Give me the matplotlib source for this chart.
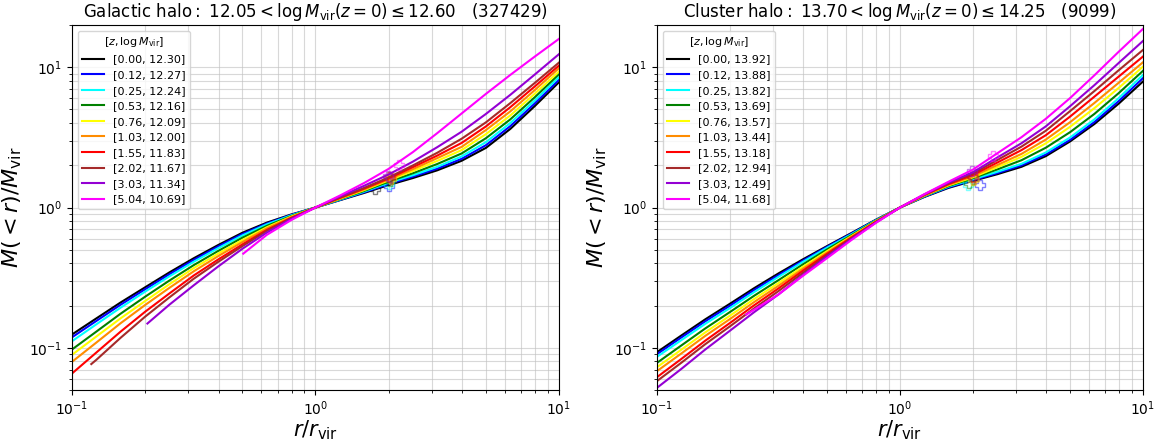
import numpy as np
import matplotlib
matplotlib.use('Agg')
import matplotlib.pyplot as plt

# radius grid (r / r_vir), 0.1 dex steps, shared by all curves
r_grid = [0.1, 0.126, 0.158, 0.2, 0.251, 0.316, 0.398, 0.501, 0.631, 0.794, 1.0,
          1.259, 1.585, 1.995, 2.512, 3.162, 3.981, 5.012, 6.31, 7.943, 10.0]

colors = ['black', 'blue', 'cyan', 'green', 'yellow', 'darkorange',
          'red', 'brown', 'darkviolet', 'magenta']
z_vals = ['0.00', '0.12', '0.25', '0.53', '0.76', '1.03', '1.55', '2.02', '3.03', '5.04']

nan = np.nan

#### galactic halo: log10 M(<r)/Mvir read on r_grid
logm_gal = [
    [-0.905, -0.790, -0.678, -0.568, -0.463, -0.362, -0.268, -0.180, -0.108, -0.050, 0,
     0.052, 0.104, 0.160, 0.210, 0.265, 0.333, 0.425, 0.560, 0.722, 0.893],
    [-0.925, -0.808, -0.694, -0.582, -0.476, -0.374, -0.278, -0.189, -0.114, -0.053, 0,
     0.054, 0.108, 0.167, 0.220, 0.277, 0.347, 0.444, 0.580, 0.741, 0.910],
    [-0.953, -0.832, -0.715, -0.599, -0.491, -0.387, -0.290, -0.199, -0.120, -0.056, 0,
     0.056, 0.113, 0.176, 0.230, 0.290, 0.364, 0.466, 0.602, 0.762, 0.929],
    [-1.012, -0.884, -0.758, -0.635, -0.521, -0.411, -0.310, -0.215, -0.131, -0.061, 0,
     0.059, 0.118, 0.184, 0.244, 0.310, 0.385, 0.494, 0.628, 0.785, 0.950],
    [-1.050, -0.919, -0.791, -0.666, -0.547, -0.432, -0.329, -0.232, -0.141, -0.065, 0,
     0.062, 0.124, 0.193, 0.260, 0.332, 0.409, 0.523, 0.656, 0.810, 0.969],
    [-1.100, -0.962, -0.826, -0.694, -0.573, -0.455, -0.347, -0.246, -0.149, -0.069, 0,
     0.065, 0.129, 0.200, 0.273, 0.352, 0.432, 0.552, 0.685, 0.836, 0.993],
    [-1.183, -1.033, -0.886, -0.742, -0.613, -0.485, -0.371, -0.263, -0.160, -0.074, 0,
     0.068, 0.135, 0.207, 0.288, 0.370, 0.460, 0.578, 0.715, 0.862, 1.012],
    [nan, -1.085, -0.930, -0.777, -0.641, -0.508, -0.388, -0.275, -0.167, -0.077, 0,
     0.071, 0.140, 0.214, 0.300, 0.390, 0.490, 0.607, 0.744, 0.887, 1.033],
    [nan, nan, nan, nan, -0.693, -0.555, -0.421, -0.294, -0.179, -0.082, 0,
     0.078, 0.155, 0.235, 0.327, 0.430, 0.540, 0.667, 0.803, 0.947, 1.093],
    [nan, nan, nan, nan, nan, nan, nan, nan, -0.195, -0.090, 0,
     0.085, 0.175, 0.275, 0.395, 0.530, 0.670, 0.810, 0.945, 1.075, 1.202],
]
# first point of the curves that start inside the range
start_r_gal = [None, None, None, None, None, None, None, 0.12, 0.204, 0.505]
start_m_gal = [None, None, None, None, None, None, None, -1.116, -0.827, -0.329]
mvir_gal = ['12.30', '12.27', '12.24', '12.16', '12.09', '12.00', '11.83', '11.67', '11.34', '10.69']
# open markers near r ~ 2 (r, log10 M)
mark_r_gal = [1.75, 2.0, 2.0, 2.02, 2.05, 2.05, 2.02, 2.0, 1.98, 2.2]
mark_m_gal = [0.130, 0.150, 0.170, 0.190, 0.200, 0.210, 0.220, 0.215, 0.225, 0.305]

#### cluster halo
logm_clu = [
    [-1.031, -0.912, -0.797, -0.685, -0.575, -0.470, -0.370, -0.275, -0.182, -0.088, 0,
     0.075, 0.140, 0.190, 0.237, 0.290, 0.366, 0.471, 0.595, 0.740, 0.898],
    [-1.045, -0.926, -0.811, -0.699, -0.588, -0.482, -0.379, -0.280, -0.186, -0.090, 0,
     0.077, 0.144, 0.194, 0.245, 0.300, 0.378, 0.482, 0.609, 0.758, 0.922],
    [-1.064, -0.945, -0.829, -0.716, -0.603, -0.494, -0.388, -0.287, -0.191, -0.092, 0,
     0.080, 0.149, 0.201, 0.254, 0.311, 0.392, 0.499, 0.628, 0.779, 0.945],
    [-1.107, -0.983, -0.862, -0.744, -0.629, -0.518, -0.406, -0.299, -0.197, -0.095, 0,
     0.082, 0.153, 0.209, 0.271, 0.337, 0.426, 0.537, 0.667, 0.815, 0.974],
    [-1.138, -1.013, -0.890, -0.770, -0.652, -0.539, -0.423, -0.311, -0.204, -0.098, 0,
     0.084, 0.158, 0.215, 0.287, 0.361, 0.457, 0.575, 0.708, 0.852, 1.004],
    [-1.166, -1.040, -0.915, -0.794, -0.674, -0.558, -0.437, -0.321, -0.209, -0.100, 0,
     0.086, 0.162, 0.223, 0.302, 0.382, 0.484, 0.608, 0.745, 0.889, 1.035],
    [-1.209, -1.079, -0.949, -0.822, -0.697, -0.577, -0.451, -0.330, -0.214, -0.103, 0,
     0.089, 0.167, 0.232, 0.320, 0.409, 0.515, 0.648, 0.790, 0.933, 1.076],
    [-1.237, -1.106, -0.974, -0.846, -0.719, -0.596, -0.466, -0.340, -0.220, -0.105, 0,
     0.091, 0.172, 0.241, 0.338, 0.434, 0.547, 0.687, 0.830, 0.978, 1.123],
    [-1.285, -1.150, -1.012, -0.877, -0.746, -0.620, -0.482, -0.349, -0.225, -0.108, 0,
     0.093, 0.177, 0.251, 0.356, 0.458, 0.578, 0.722, 0.872, 1.030, 1.187],
    [nan, nan, nan, nan, nan, -0.620, -0.488, -0.361, -0.232, -0.111, 0,
     0.095, 0.184, 0.270, 0.386, 0.501, 0.632, 0.780, 0.942, 1.110, 1.273],
]
start_r_clu = [None, None, None, None, None, None, None, None, None, 0.233]
start_m_clu = [None, None, None, None, None, None, None, None, None, -0.763]
mvir_clu = ['13.92', '13.88', '13.82', '13.69', '13.57', '13.44', '13.18', '12.94', '12.49', '11.68']
mark_r_clu = [2.0, 2.13, 1.9, 1.92, 2.0, 2.02, 2.0, 1.98, 1.97, 2.42]
mark_m_clu = [0.200, 0.162, 0.162, 0.175, 0.195, 0.205, 0.215, 0.225, 0.257, 0.364]

titles = [r'${\rm Galactic\ halo:}\ 12.05 < \log M_{\rm vir}(z=0) \leq 12.60$   (327429)',
          r'${\rm Cluster\ halo:}\ 13.70 < \log M_{\rm vir}(z=0) \leq 14.25$   (9099)']

fig = plt.figure(figsize=(11.58, 4.43), dpi=100)
ax1 = fig.add_axes([0.0622, 0.1196, 0.4205, 0.824])
ax2 = fig.add_axes([0.5674, 0.1196, 0.4196, 0.824])

panels = [(ax1, logm_gal, start_r_gal, start_m_gal, mvir_gal, mark_r_gal, mark_m_gal),
          (ax2, logm_clu, start_r_clu, start_m_clu, mvir_clu, mark_r_clu, mark_m_clu)]

for k, (ax, logm, sr, sm, mv, mr, mm) in enumerate(panels):
    for i in range(len(colors)):
        rr = []
        yy = []
        if sr[i] is not None:
            rr.append(sr[i])
            yy.append(sm[i])
        for j in range(len(r_grid)):
            if not np.isnan(logm[i][j]):
                rr.append(r_grid[j])
                yy.append(logm[i][j])
        ax.plot(rr, 10**np.array(yy), '-', color=colors[i], lw=1.5,
                label='[%s, %s]' % (z_vals[i], mv[i]))
        ax.plot(mr[i], 10**mm[i], 'P', color=colors[i], ms=7, mew=1.0,
                fillstyle='none', alpha=0.5)
    ax.set_xscale('log')
    ax.set_yscale('log')
    ax.set_xlim(0.1, 10)
    ax.set_ylim(0.05, 20)
    ax.grid(which='both', color='0.75', lw=0.8, alpha=0.6)
    ax.set_xlabel(r'$r/r_{\rm vir}$', fontsize=15, labelpad=0)
    ax.set_ylabel(r'$M(<r)/M_{\rm vir}$', fontsize=16)
    ax.set_title(titles[k], fontsize=12)
    ax.legend(loc='upper left', fontsize=8, title=r'$[z, \log M_{\rm vir}]$',
              title_fontsize=8)

fig.savefig('out.png', dpi=100)
